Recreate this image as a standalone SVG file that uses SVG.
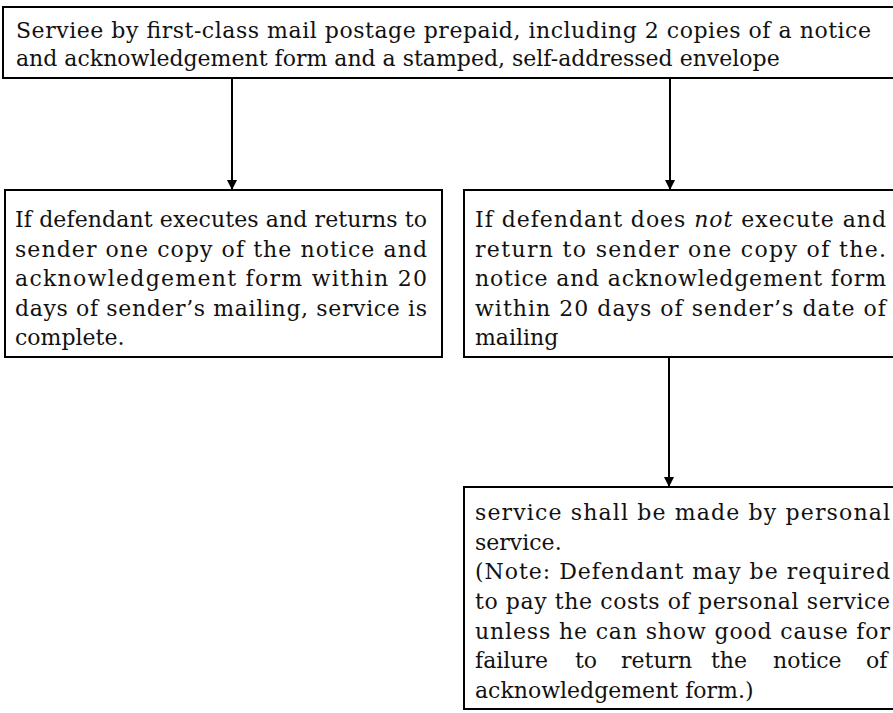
<svg xmlns="http://www.w3.org/2000/svg" width="893" height="713" viewBox="0 0 893 713">
<style>
.box{fill:#fff;stroke:#000;stroke-width:2}
.t{font-family:"DejaVu Serif","Liberation Serif",serif;font-size:22px;fill:#111}
.conn{stroke:#000;stroke-width:2;fill:none}
</style>
<defs>
<marker id="ah" markerUnits="userSpaceOnUse" markerWidth="10" markerHeight="12" refX="9" refY="5" orient="auto">
<path d="M0,0 L10,5 L0,10 z" fill="#000"/>
</marker>
</defs>
<rect width="893" height="713" fill="#fff"/>
<g id="connectors">
<line class="conn" x1="232" y1="79" x2="232" y2="189" marker-end="url(#ah)"/>
<line class="conn" x1="670" y1="79" x2="670" y2="189" marker-end="url(#ah)"/>
<line class="conn" x1="669" y1="357" x2="669" y2="486" marker-end="url(#ah)"/>
</g>
<g id="service">
<rect class="box" x="3" y="7" width="900" height="71"/>
<text class="t" x="16" y="38" textLength="855" lengthAdjust="spacing">Serviee by first-class mail postage prepaid, including 2 copies of a notice</text>
<text class="t" x="16" y="66">and acknowledgement form and a stamped, self-addressed envelope</text>
</g>
<g id="returned">
<rect class="box" x="5" y="190" width="437" height="167"/>
<text class="t" x="15" y="227" textLength="412" lengthAdjust="spacing">If defendant executes and returns to</text>
<text class="t" x="15" y="256.5" textLength="412" lengthAdjust="spacing">sender one copy of the notice and</text>
<text class="t" x="15" y="286" textLength="412" lengthAdjust="spacing">acknowledgement form within 20</text>
<text class="t" x="15" y="315.5" textLength="412" lengthAdjust="spacing">days of sender’s mailing, service is</text>
<text class="t" x="15" y="345">complete.</text>
</g>
<g id="not-returned">
<rect class="box" x="464" y="190" width="440" height="167"/>
<text class="t" x="475" y="227" textLength="411" lengthAdjust="spacing">If defendant does <tspan font-style="italic">not</tspan> execute and</text>
<text class="t" x="475" y="256.5" textLength="411" lengthAdjust="spacing">return to sender one copy of the.</text>
<text class="t" x="475" y="286" textLength="411" lengthAdjust="spacing">notice and acknowledgement form</text>
<text class="t" x="475" y="315.5" textLength="411" lengthAdjust="spacing">within 20 days of sender’s date of</text>
<text class="t" x="475" y="345">mailing</text>
</g>
<g id="personal">
<rect class="box" x="464" y="487" width="440" height="222"/>
<text class="t" x="475" y="520" textLength="415" lengthAdjust="spacing">service shall be made by personal</text>
<text class="t" x="475" y="549.7">service.</text>
<text class="t" x="475" y="579.3" textLength="415" lengthAdjust="spacing">(Note: Defendant may be required</text>
<text class="t" x="475" y="609" textLength="415" lengthAdjust="spacing">to pay the costs of personal service</text>
<text class="t" x="475" y="638.7" textLength="415" lengthAdjust="spacing">unless he can show good cause for</text>
<text class="t" y="668.3"><tspan x="475">failure</tspan> <tspan x="575">to</tspan> <tspan x="621">return</tspan> <tspan x="711">the</tspan> <tspan x="773">notice</tspan> <tspan x="866">of</tspan></text>
<text class="t" x="475" y="698">acknowledgement form.)</text>
</g>
</svg>
